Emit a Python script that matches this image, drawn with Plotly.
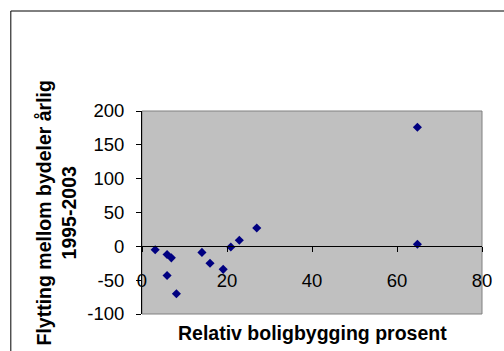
import plotly.graph_objects as go

# Relative housing construction (%) vs. net migration between districts per year, 1995-2003
boligbygging = [3.1, 5.9, 6.9, 5.9, 8.1, 14.1, 16.0, 19.1, 20.9, 22.9, 27.0, 64.8, 64.8]
flytting = [-5, -12, -17, -43, -70, -9, -25, -34, -1, 9, 27, 176, 3]

x_ticks = [0, 20, 40, 60, 80]
y_ticks = [-100, -50, 0, 50, 100, 150, 200]

x_title = "Relativ boligbygging prosent"
y_title = "Flytting mellom bydeler årlig<br>1995-2003"

W, H = 504, 351
L, R, T, B = 142, 16, 111, 37
pw, ph = W - L - R, H - T - B

font = "Liberation Sans, Arial, sans-serif"

fig = go.Figure(
    go.Scatter(
        x=boligbygging,
        y=flytting,
        mode="markers",
        marker=dict(symbol="diamond", size=7, color="#000080", line=dict(width=0)),
        showlegend=False,
        hoverinfo="x+y",
    )
)

fig.update_layout(
    width=W,
    height=H,
    margin=dict(l=L, r=R, t=T, b=B, pad=0),
    paper_bgcolor="white",
    plot_bgcolor="#C0C0C0",
    font=dict(family=font, size=18, color="black"),
    xaxis=dict(
        range=[0, 80],
        tickvals=x_ticks,
        ticktext=[str(v) for v in x_ticks],
        showgrid=False,
        zeroline=False,
        showline=True,
        linecolor="black",
        linewidth=1,
        ticks="outside",
        ticklen=5,
        tickcolor="black",
        anchor="free",
        position=1 / 3,
        ticklabelstandoff=12,
        tickfont=dict(size=18.5),
    ),
    yaxis=dict(
        range=[-100, 200],
        tickvals=y_ticks,
        ticktext=[str(v) for v in y_ticks],
        showgrid=False,
        zeroline=False,
        showline=True,
        linecolor="black",
        linewidth=1,
        ticks="outside",
        ticklen=5,
        tickcolor="black",
        ticklabelstandoff=8,
        tickfont=dict(size=18.5),
    ),
    shapes=[
        # plot area frame
        dict(type="rect", xref="paper", yref="paper", x0=0, y0=0, x1=1, y1=1,
             line=dict(color="#808080", width=1), layer="below"),
        # chart area frame
        dict(type="rect", xref="paper", yref="paper",
             x0=(8.5 - L) / pw, x1=(W + 10 - L) / pw,
             y0=-(B + 10) / ph, y1=(H - B - 11) / ph,
             line=dict(color="black", width=1)),
    ],
    annotations=[
        dict(text=f"<b>{x_title}</b>", xref="paper", yref="paper",
             x=0.5, y=-(333 - (H - B)) / ph, showarrow=False,
             xanchor="center", yanchor="middle", font=dict(size=19.5)),
        dict(text=f"<b>{y_title}</b>", xref="paper", yref="paper",
             x=(54 - L) / pw, y=((H - B) - 213) / ph, showarrow=False,
             xanchor="center", yanchor="middle", textangle=-90,
             font=dict(size=19.5)),
    ],
)

fig.write_html("out.html")
